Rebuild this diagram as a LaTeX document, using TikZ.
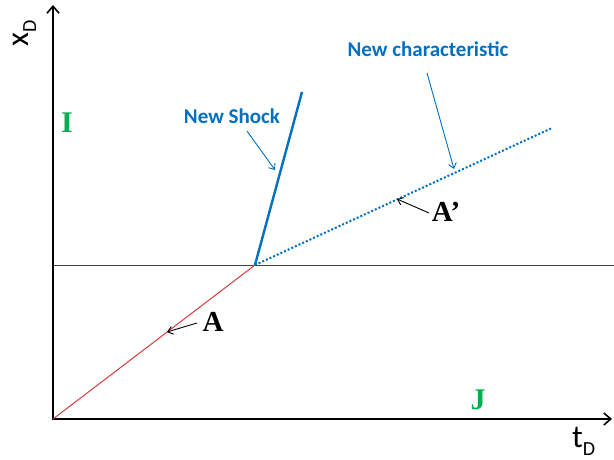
\documentclass[tikz,border=0pt]{standalone}
\usepackage{fontspec}
\setmainfont{Liberation Serif}
\newfontfamily\calib{Carlito}
\usetikzlibrary{arrows.meta}
\definecolor{myblue}{RGB}{0,112,192}
\definecolor{mygreen}{RGB}{0,176,80}
\definecolor{myred}{RGB}{215,60,60}
\newcommand{\axlab}[2]{#1\raisebox{-8pt}{\fontsize{20}{22}\selectfont #2}}
\tikzset{
  axis/.style={line width=2.2pt,-{Straight Barb[length=7pt,width=12pt,line width=1.6pt]}},
  callout/.style={myblue,line width=0.9pt,-{Straight Barb[length=5pt,width=8pt]}},
  pointer/.style={black,line width=0.9pt,-{Straight Barb[length=5pt,width=8pt]}},
  bluelabel/.style={myblue,font=\calib\bfseries\fontsize{21}{24}\selectfont},
  letter/.style={font=\bfseries\fontsize{29}{32}\selectfont},
  region/.style={mygreen,font=\bfseries\fontsize{30}{33}\selectfont},
  axislabel/.style={inner sep=0pt,anchor=base west,font=\calib\fontsize{32}{36}\selectfont},
}
\begin{document}
\begin{tikzpicture}[x=1pt,y=-1pt]
\useasboundingbox (0,0) rectangle (614,460);
\coordinate (O) at (53,419);
\coordinate (ytop) at (53,5);
\coordinate (xend) at (612,419);
\coordinate (hl) at (53,265);
\coordinate (hr) at (614,265);
\coordinate (P) at (255,265);
\coordinate (S) at (302,92);
\coordinate (C) at (552,128);
% horizontal line
\draw[line width=0.8pt,black!75] (hl) -- (hr);
% axes
\draw[axis] (O) -- (ytop);
\draw[axis] ([xshift=-1.1pt]O) -- (xend);
% red line
\draw[myred,line width=1pt] (O) -- (P);
% shock
\draw[myblue,line width=2.4pt] (P) -- (S);
% characteristic
\draw[myblue,line width=2pt,dotted] (P) -- (C);
% labels
\node[bluelabel] (ns) at (232,116) {New Shock};
\coordinate (nsa) at (275,170);
\draw[callout] (247,131) -- (nsa);
\node[bluelabel] (nc) at (428,49) {New characteristic};
\coordinate (nca) at (454,169);
\draw[callout] (427,73) -- (nca);
\node[letter] (Ap) at (446,212) {A’};
\coordinate (apa) at (397,199);
\draw[pointer] (429,213) -- (apa);
\node[letter] (A) at (213,322) {A};
\coordinate (aa) at (167,332);
\draw[pointer] (197,323) -- (aa);
\node[region] (I) at (67,123) {I};
\node[region] (J) at (478,400) {J};
\node[axislabel,rotate=90] (xd) at (28,47) {\axlab{x}{D}};
\node[axislabel] (td) at (572,447) {\axlab{t}{D}};
\end{tikzpicture}
\end{document}
